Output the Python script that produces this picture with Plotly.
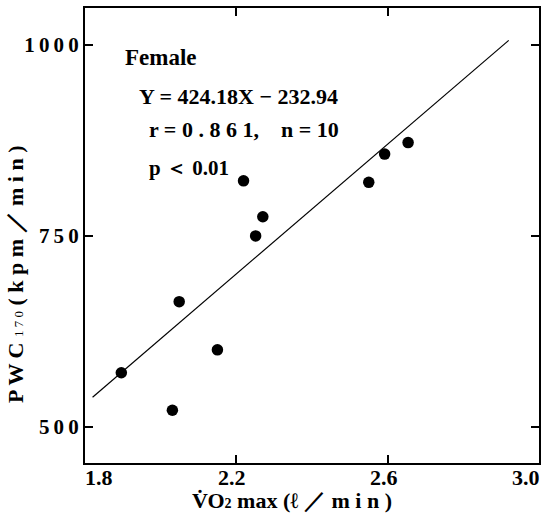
import plotly.graph_objects as go

# Data
vo2 = [2.219, 2.270, 2.251, 2.049, 2.150, 1.896, 2.031, 2.550, 2.592, 2.654]
pwc = [822, 775, 750, 664, 601, 571, 522, 820, 857, 872]

slope = 424.18
intercept = -232.94
fit_x = [1.82, 2.92]
fit_y = [slope * x + intercept for x in fit_x]

xtick_vals = [1.8, 2.2, 2.6, 3.0]
xtick_text = ["1.8", "2.2", "2.6", "3.0"]
ytick_vals = [500, 750, 1000]
ytick_text = ["5\u20090\u20090", "7\u20095\u20090", "1\u20090\u20090\u20090"]

SERIF = "Liberation Serif, Times New Roman, serif"

fig = go.Figure()
fig.add_trace(go.Scatter(x=fit_x, y=fit_y, mode="lines",
                         line=dict(color="black", width=1.2), showlegend=False))
fig.add_trace(go.Scatter(x=vo2, y=pwc, mode="markers",
                         marker=dict(color="black", size=11.5), showlegend=False))

fig.update_xaxes(range=[1.8, 3.0], tickvals=xtick_vals, showticklabels=False,
                 ticks="inside", ticklen=8, tickwidth=2, tickcolor="black",
                 showline=True, linecolor="black", linewidth=2, mirror="ticks",
                 showgrid=False, zeroline=False)
fig.update_yaxes(range=[453, 1048], tickvals=ytick_vals,
                 ticktext=["<b>" + t + "</b>" for t in ytick_text],
                 ticks="inside", ticklen=8, tickwidth=2, tickcolor="black",
                 tickfont=dict(family=SERIF, size=21, color="black"),
                 showline=True, linecolor="black", linewidth=2, mirror="ticks",
                 showgrid=False, zeroline=False)

annotations = []
# x tick labels (shifted at the ends like the reference)
shifts = {0: 14, 3: -13}
for i, (v, t) in enumerate(zip(xtick_vals, xtick_text)):
    annotations.append(dict(x=v, y=0, xref="x", yref="paper", text="<b>" + t + "</b>",
                            showarrow=False, yanchor="top", xanchor="center",
                            yshift=0, xshift=shifts.get(i, -4),
                            font=dict(family=SERIF, size=22, color="black")))

annotations += [
    dict(x=-0.1535, y=0.414, xref="paper", yref="paper", textangle=-90,
         text="<b>P W C</b> <span style='font-size:13px'>1 7 0</span><b> ( k p m ／ m i n )</b>",
         showarrow=False, xanchor="center", yanchor="middle",
         font=dict(family=SERIF, size=22, color="black")),
    dict(x=0.456, y=-0.083, xref="paper", yref="paper",
         text="<b>V\u0307O</b><span style='font-size:14px'><b>2</b></span><b> max (ℓ ／ m i n )</b>",
         showarrow=False, xanchor="center", yanchor="middle",
         font=dict(family=SERIF, size=22, color="black")),
    dict(x=0.083, y=0.891, xref="paper", yref="paper", text="<b>Female</b>",
         showarrow=False, xanchor="left", yanchor="middle",
         font=dict(family=SERIF, size=23, color="black")),
    dict(x=0.114, y=0.805, xref="paper", yref="paper", text="<b>Y = 424.18X − 232.94</b>",
         showarrow=False, xanchor="left", yanchor="middle",
         font=dict(family=SERIF, size=22, color="black")),
    dict(x=0.136, y=0.733, xref="paper", yref="paper", text="<b>r = 0 . 8 6 1,    n = 10</b>",
         showarrow=False, xanchor="left", yanchor="middle",
         font=dict(family=SERIF, size=22, color="black")),
    dict(x=0.136, y=0.649, xref="paper", yref="paper", text="<b>p ＜ 0.01</b>",
         showarrow=False, xanchor="left", yanchor="middle",
         font=dict(family=SERIF, size=21, color="black")),
]

fig.update_layout(width=543, height=516, margin=dict(l=85, r=2, t=8, b=53),
                  plot_bgcolor="white", paper_bgcolor="white",
                  annotations=annotations)

fig.write_html("out.html")
